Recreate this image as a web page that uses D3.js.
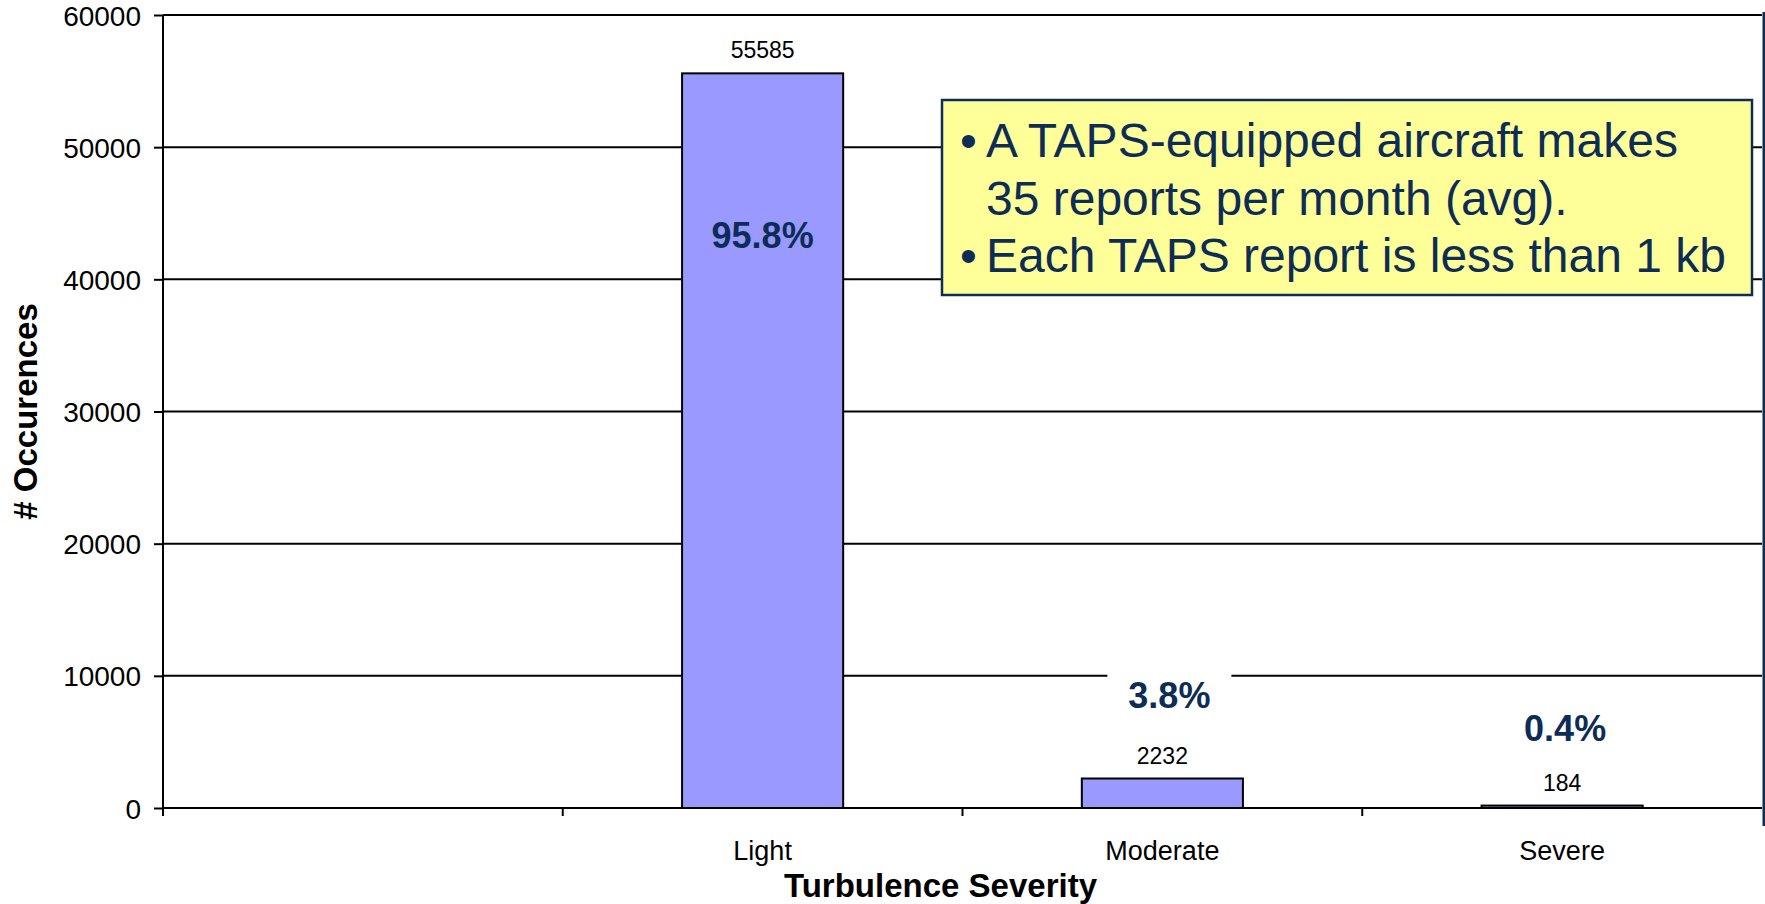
<!DOCTYPE html>
<html><head><meta charset="utf-8">
<script src="https://cdn.jsdelivr.net/npm/d3@7"></script>
<style>
body{margin:0;background:#fff;}
svg{display:block;}
text{font-family:"Liberation Sans",Arial,Helvetica,sans-serif;}
</style>
</head><body>
<svg id="chart" width="1765" height="904"></svg>
<script>
// ---- data ----
const categories = ["", "Light", "Moderate", "Severe"];
const occurrences = [null, 55585, 2232, 184];
const percentLabels = [null, "95.8%", "3.8%", "0.4%"];
const yTicks = [0, 10000, 20000, 30000, 40000, 50000, 60000];
const noteLines = [
  {bullet: true,  text: "A TAPS-equipped aircraft makes"},
  {bullet: false, text: "35 reports per month (avg)."},
  {bullet: true,  text: "Each TAPS report is less than 1 kb"}
];
const xTitle = "Turbulence Severity";
const yTitle = "# Occurences";

// annotation placement (data units for percent label baselines)
const percentY = [null, 42400, 7600, 5100];
const percentDx = [0, 0, 7, 3];

// ---- layout ----
const W = 1765, H = 904;
const m = {left: 163, right: 1762, top: 15, bottom: 808};
const navy = "#0d2d56";

const svg = d3.select("#chart");

const x = d3.scaleBand().domain(d3.range(categories.length)).range([m.left, m.right]).padding(0);
const y = d3.scaleLinear().domain([0, 60000]).range([m.bottom, m.top]);
const barW = x.bandwidth() * 0.403;

// gridlines
svg.append("g").selectAll("line").data(yTicks.filter(t => t > 0)).join("line")
  .attr("x1", m.left).attr("x2", m.right)
  .attr("y1", d => y(d)).attr("y2", d => y(d))
  .attr("stroke", "#000").attr("stroke-width", 2);

// y axis
const yAxis = d3.axisLeft(y).tickValues(yTicks).tickSize(9).tickPadding(13).tickFormat(d3.format("d"));
const gy = svg.append("g").attr("transform", `translate(${m.left},0)`).call(yAxis);
gy.select(".domain").remove();
gy.selectAll(".tick line").attr("stroke", "#000").attr("stroke-width", 2);
gy.selectAll(".tick text").attr("font-size", 28).attr("fill", "#000")
  .attr("font-family", '"Liberation Sans",Arial,sans-serif').attr("dy", "0.36em");
svg.append("line").attr("x1", m.left).attr("x2", m.left).attr("y1", m.top).attr("y2", m.bottom + 8)
  .attr("stroke", "#000").attr("stroke-width", 2);

// bars
const barData = occurrences.map((v, i) => ({i, v})).filter(d => d.v != null);
svg.append("g").selectAll("rect").data(barData).join("rect")
  .attr("x", d => x(d.i) + (x.bandwidth() - barW) / 2)
  .attr("width", barW)
  .attr("y", d => y(d.v))
  .attr("height", d => y(0) - y(d.v))
  .attr("fill", "#9999ff").attr("stroke", "#000").attr("stroke-width", 2);

// x axis
const gx = svg.append("g").attr("transform", `translate(0,${m.bottom})`);
gx.append("line").attr("x1", m.left).attr("x2", m.right).attr("y1", 0).attr("y2", 0)
  .attr("stroke", "#000").attr("stroke-width", 2);
const boundaries = d3.range(1, categories.length).map(i => x(i));
gx.selectAll("line.tk").data(boundaries).join("line").attr("class", "tk")
  .attr("x1", d => d).attr("x2", d => d).attr("y1", 0).attr("y2", 8)
  .attr("stroke", "#000").attr("stroke-width", 2);
gx.selectAll("text").data(categories.map((c, i) => ({c, i}))).join("text")
  .attr("x", d => x(d.i) + x.bandwidth() / 2).attr("y", 52)
  .attr("text-anchor", "middle").attr("font-size", 27).attr("fill", "#000")
  .text(d => d.c);

// value labels
svg.append("g").selectAll("text").data(barData).join("text")
  .attr("x", d => x(d.i) + x.bandwidth() / 2)
  .attr("y", d => y(d.v) - 15)
  .attr("text-anchor", "middle").attr("font-size", 23).attr("fill", "#000")
  .text(d => d3.format("d")(d.v));

// percent labels
const pData = percentLabels.map((t, i) => ({t, i})).filter(d => d.t != null);
const pg = svg.append("g");
pData.forEach(d => {
  const cx = x(d.i) + x.bandwidth() / 2 + percentDx[d.i];
  const by = y(percentY[d.i]);
  if (d.i === 2) {
    pg.append("rect").attr("x", cx - 62).attr("y", by - 38).attr("width", 124).attr("height", 50)
      .attr("fill", "#fff");
  }
  pg.append("text").attr("x", cx).attr("y", by)
    .attr("text-anchor", "middle").attr("font-size", 36).attr("font-weight", "bold")
    .attr("fill", navy).text(d.t);
});

// note box
const note = svg.append("g");
note.append("rect").attr("x", 942).attr("y", 100).attr("width", 810).attr("height", 195)
  .attr("fill", "#ffff99").attr("stroke", navy).attr("stroke-width", 2.5);
noteLines.forEach((l, k) => {
  const by = 157 + k * 57.5;
  if (l.bullet) {
    note.append("text").attr("x", 960).attr("y", by).attr("font-size", 48).attr("fill", navy).text("\u2022");
  }
  note.append("text").attr("x", 986).attr("y", by).attr("font-size", 48).attr("fill", navy).text(l.text);
});

// right slide edge line
svg.append("line").attr("x1", 1764).attr("x2", 1764).attr("y1", 12).attr("y2", 826)
  .attr("stroke", navy).attr("stroke-width", 3);

// axis titles
svg.append("text").attr("x", (m.left + m.right) / 2 - 22).attr("y", 897)
  .attr("text-anchor", "middle").attr("font-size", 33).attr("font-weight", "bold").attr("fill", "#000")
  .text(xTitle);
svg.append("text").attr("transform", `translate(37,${(m.top + m.bottom) / 2}) rotate(-90)`)
  .attr("text-anchor", "middle").attr("font-size", 33).attr("font-weight", "bold").attr("fill", "#000")
  .text(yTitle);
</script>
</body></html>
